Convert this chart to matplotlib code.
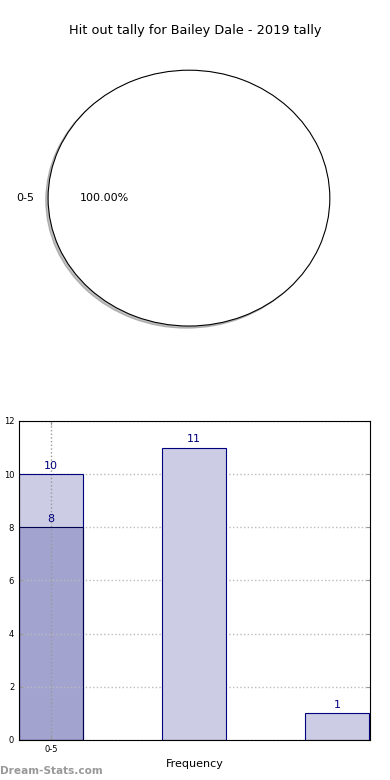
import matplotlib
matplotlib.use("Agg")
import matplotlib.pyplot as plt

title = "Hit out tally for Bailey Dale - 2019 tally"
pie_labels = ["0-5"]
pie_values = [100.0]

bar_positions = [0, 1, 2]
bar_totals = [10, 11, 1]
overlay_positions = [0]
overlay_values = [8]
xtick_labels = ["0-5"]
yticks = [0, 2, 4, 6, 8, 10, 12]

fig = plt.figure(figsize=(3.9, 7.8), dpi=100)

ax1 = fig.add_axes([0.033, 0.541, 0.903, 0.410])
wedges, texts, autotexts = ax1.pie(pie_values, labels=pie_labels, autopct="%1.2f%%",
                                   shadow={"ox": -0.012, "oy": -0.012, "shade": 0.5},
                                   startangle=0,
                                   colors=["white"],
                                   wedgeprops=dict(edgecolor="black", linewidth=0.8),
                                   textprops=dict(fontsize=8))
ax1.set_aspect("auto")
ax1.set_xlim(-1.25, 1.25)
ax1.set_ylim(-1.25, 1.25)
fig.text(0.5, 0.961, title, ha="center", va="center", fontsize=9.3)

ax2 = fig.add_axes([0.049, 0.0513, 0.9, 0.409])
light = "#ccccE4"
dark = "#a3a3d0"
navy = "#00007f"
for x, v in zip(bar_positions, bar_totals):
    if x in overlay_positions:
        ax2.bar(x, v, width=0.45, color=light, edgecolor="none", zorder=0.5)
        ax2.bar(x, v, width=0.45, fill=False, edgecolor=navy, linewidth=0.8, zorder=3)
    else:
        ax2.bar(x, v, width=0.45, color=light, edgecolor=navy, linewidth=0.8, zorder=3)
    ax2.text(x, v + 0.12, str(v), ha="center", va="bottom", color=navy, fontsize=8, zorder=4)
for x, v in zip(overlay_positions, overlay_values):
    ax2.bar(x, v, width=0.45, color=dark, edgecolor="none", zorder=0.6)
    ax2.bar(x, v, width=0.45, fill=False, edgecolor="#000050", linewidth=0.8, zorder=3)
    ax2.text(x, v + 0.12, str(v), ha="center", va="bottom", color=navy, fontsize=8, zorder=4)

ax2.set_xlim(-0.225, 2.23)
ax2.set_ylim(0, 12)
ax2.set_yticks(yticks)
ax2.set_xticks(overlay_positions)
ax2.set_xticklabels(xtick_labels)
ax2.tick_params(labelsize=6, length=3, color="#999999", direction="in", top=True, right=True)
ax2.set_axisbelow(False)
ax2.yaxis.grid(True, linestyle=":", color="#bbbbbb", linewidth=1)
ax2.xaxis.grid(True, linestyle=":", color="#999999", linewidth=1)
for s in ax2.spines.values():
    s.set_zorder(5)
ax2.set_xlabel("Frequency", fontsize=8)
ax2.set_ylabel("Scale/Hit outs", fontsize=8)
ax2.yaxis.set_label_coords(-0.06, 0.5)

fig.text(0.0, 0.012, "Dream-Stats.com", ha="left", va="center", fontsize=7.6,
         fontweight="bold", color="#999999")

fig.savefig("out.png", dpi=100)
